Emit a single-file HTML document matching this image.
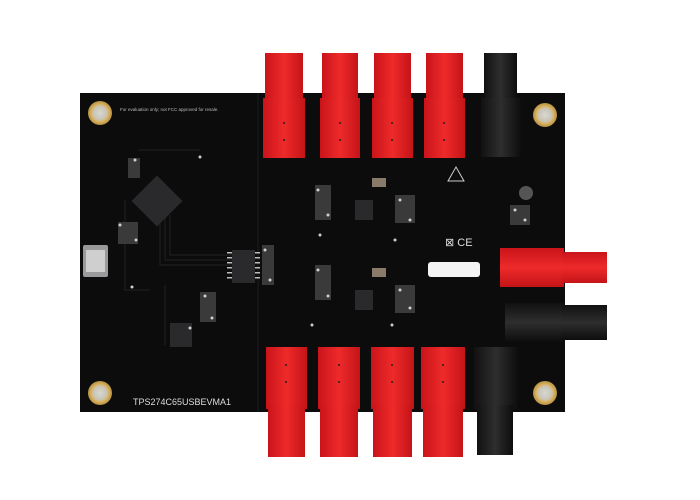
<!DOCTYPE html>
<html><head><meta charset="utf-8"><style>
html,body{margin:0;padding:0;background:#fff;}
svg{display:block;}
text{font-family:"Liberation Sans",sans-serif;}
</style></head><body>
<svg width="700" height="500" viewBox="0 0 700 500" xmlns="http://www.w3.org/2000/svg">
<defs>
<linearGradient id="red" x1="0" x2="1" y1="0" y2="0">
<stop offset="0" stop-color="#c9141a"/><stop offset="0.5" stop-color="#ee2a2a"/><stop offset="1" stop-color="#c41418"/></linearGradient>
<linearGradient id="redh" x1="0" x2="0" y1="0" y2="1">
<stop offset="0" stop-color="#c9141a"/><stop offset="0.5" stop-color="#ee2a2a"/><stop offset="1" stop-color="#c41418"/></linearGradient>
<linearGradient id="blk" x1="0" x2="1"><stop offset="0" stop-color="#111"/><stop offset="0.5" stop-color="#2e2e2e"/><stop offset="1" stop-color="#0d0d0d"/></linearGradient>
<linearGradient id="blkh" x1="0" x2="0" y1="0" y2="1"><stop offset="0" stop-color="#111"/><stop offset="0.5" stop-color="#2e2e2e"/><stop offset="1" stop-color="#0d0d0d"/></linearGradient>
<radialGradient id="gold"><stop offset="0" stop-color="#d8d8d0"/><stop offset="0.55" stop-color="#c8c4b8"/><stop offset="0.7" stop-color="#d9b66a"/><stop offset="1" stop-color="#b8913e"/></radialGradient>
</defs>
<rect width="700" height="500" fill="#fff"/>
<rect x="80" y="93" width="485" height="319" fill="#0c0c0d"/>
<line x1="258" y1="93" x2="258" y2="412" stroke="#1d1d1f" stroke-width="1"/>
<circle cx="100" cy="113" r="12" fill="url(#gold)"/>
<circle cx="100" cy="393" r="12" fill="url(#gold)"/>
<circle cx="545" cy="115" r="12" fill="url(#gold)"/>
<circle cx="545" cy="393" r="12" fill="url(#gold)"/>
<text x="120" y="111" font-size="4.5" fill="#bbb">For evaluation only; not FCC approved for resale.</text>
<text x="133" y="405" font-size="9" fill="#ddd">TPS274C65USBEVMA1</text>
<g stroke="#222" stroke-width="1" fill="none">
<path d="M160 215 V265 H232"/><path d="M165 215 V260 H232"/><path d="M170 215 V255 H232"/><path d="M125 200 V290 H150"/><path d="M165 285 V345"/><path d="M210 300 V320"/><path d="M138 150 H200"/>
</g>
<rect x="139" y="183" width="36" height="36" fill="#2a2a2c" transform="rotate(45 157 201)"/>
<rect x="83" y="245" width="25" height="32" fill="#9a9a9c" rx="2"/>
<rect x="86" y="250" width="19" height="22" fill="#cfcfd0"/>
<rect x="232" y="250" width="23" height="33" fill="#2a2a2c"/>
<g fill="#bbb"><rect x="227" y="252" width="5" height="1.5"/><rect x="227" y="257" width="5" height="1.5"/><rect x="227" y="262" width="5" height="1.5"/><rect x="227" y="267" width="5" height="1.5"/><rect x="227" y="272" width="5" height="1.5"/><rect x="227" y="277" width="5" height="1.5"/><rect x="255" y="252" width="5" height="1.5"/><rect x="255" y="257" width="5" height="1.5"/><rect x="255" y="262" width="5" height="1.5"/><rect x="255" y="267" width="5" height="1.5"/><rect x="255" y="272" width="5" height="1.5"/><rect x="255" y="277" width="5" height="1.5"/></g>
<rect x="170" y="323" width="22" height="24" fill="#2a2a2c"/>
<rect x="355" y="200" width="18" height="20" fill="#2a2a2c"/>
<rect x="355" y="290" width="18" height="20" fill="#2a2a2c"/>
<g fill="#3a3a3a">
<rect x="118" y="222" width="20" height="22"/><rect x="128" y="158" width="12" height="20"/><rect x="200" y="292" width="16" height="30"/><rect x="262" y="245" width="12" height="40"/>
<rect x="315" y="185" width="16" height="35"/><rect x="395" y="195" width="20" height="28"/><rect x="315" y="265" width="16" height="35"/><rect x="395" y="285" width="20" height="28"/><rect x="510" y="205" width="20" height="20"/>
</g>
<g fill="#8a7a6a"><rect x="372" y="178" width="14" height="9"/><rect x="372" y="268" width="14" height="9"/></g>
<g fill="#cfcfcf">
<circle cx="135" cy="160" r="1.5"/><circle cx="200" cy="157" r="1.5"/><circle cx="120" cy="225" r="1.5"/><circle cx="136" cy="240" r="1.5"/><circle cx="205" cy="296" r="1.5"/><circle cx="212" cy="318" r="1.5"/><circle cx="265" cy="250" r="1.5"/><circle cx="270" cy="280" r="1.5"/>
<circle cx="318" cy="190" r="1.5"/><circle cx="328" cy="215" r="1.5"/><circle cx="400" cy="200" r="1.5"/><circle cx="410" cy="220" r="1.5"/><circle cx="318" cy="270" r="1.5"/><circle cx="328" cy="296" r="1.5"/><circle cx="400" cy="290" r="1.5"/><circle cx="410" cy="308" r="1.5"/>
<circle cx="320" cy="235" r="1.5"/><circle cx="395" cy="240" r="1.5"/><circle cx="312" cy="325" r="1.5"/><circle cx="392" cy="325" r="1.5"/><circle cx="515" cy="210" r="1.5"/><circle cx="525" cy="220" r="1.5"/><circle cx="132" cy="287" r="1.5"/><circle cx="190" cy="328" r="1.5"/>
</g>
<circle cx="526" cy="193" r="7" fill="#555"/>
<text x="445" y="246" font-size="11" fill="#ddd">⊠ CE</text>
<path d="M448 181 L456 167 L464 181 Z" fill="none" stroke="#ccc" stroke-width="1"/>
<rect x="428" y="262" width="52" height="15" rx="3" fill="#f4f4f4"/>
<g>
<rect x="265" y="53" width="38" height="50" fill="url(#red)"/><rect x="263" y="98" width="42" height="60" fill="url(#red)"/>
<rect x="322" y="53" width="36" height="50" fill="url(#red)"/><rect x="320" y="98" width="40" height="60" fill="url(#red)"/>
<rect x="374" y="53" width="37" height="50" fill="url(#red)"/><rect x="372" y="98" width="41" height="60" fill="url(#red)"/>
<rect x="426" y="53" width="37" height="50" fill="url(#red)"/><rect x="424" y="98" width="41" height="60" fill="url(#red)"/>
<rect x="484" y="53" width="33" height="50" fill="url(#blk)"/><rect x="481" y="98" width="40" height="59" fill="url(#blk)"/>
</g>
<g>
<rect x="266" y="347" width="41" height="62" fill="url(#red)"/><rect x="268" y="405" width="37" height="52" fill="url(#red)"/>
<rect x="318" y="347" width="42" height="62" fill="url(#red)"/><rect x="320" y="405" width="38" height="52" fill="url(#red)"/>
<rect x="371" y="347" width="43" height="62" fill="url(#red)"/><rect x="373" y="405" width="39" height="52" fill="url(#red)"/>
<rect x="421" y="347" width="44" height="62" fill="url(#red)"/><rect x="423" y="405" width="40" height="52" fill="url(#red)"/>
<rect x="474" y="347" width="44" height="62" fill="url(#blk)"/><rect x="477" y="405" width="36" height="50" fill="url(#blk)"/>
</g>
<rect x="500" y="248" width="64" height="39" fill="url(#redh)"/>
<rect x="562" y="252" width="45" height="31" fill="url(#redh)"/>
<rect x="505" y="303" width="59" height="39" fill="url(#blkh)"/>
<rect x="562" y="305" width="45" height="35" fill="url(#blkh)"/>
<g fill="#222">
<circle cx="284" cy="123" r="1"/><circle cx="284" cy="140" r="1"/><circle cx="340" cy="123" r="1"/><circle cx="340" cy="140" r="1"/><circle cx="392" cy="123" r="1"/><circle cx="392" cy="140" r="1"/><circle cx="444" cy="123" r="1"/><circle cx="444" cy="140" r="1"/>
<circle cx="286" cy="365" r="1"/><circle cx="286" cy="382" r="1"/><circle cx="339" cy="365" r="1"/><circle cx="339" cy="382" r="1"/><circle cx="392" cy="365" r="1"/><circle cx="392" cy="382" r="1"/><circle cx="443" cy="365" r="1"/><circle cx="443" cy="382" r="1"/>
</g>
</svg>
</body></html>
